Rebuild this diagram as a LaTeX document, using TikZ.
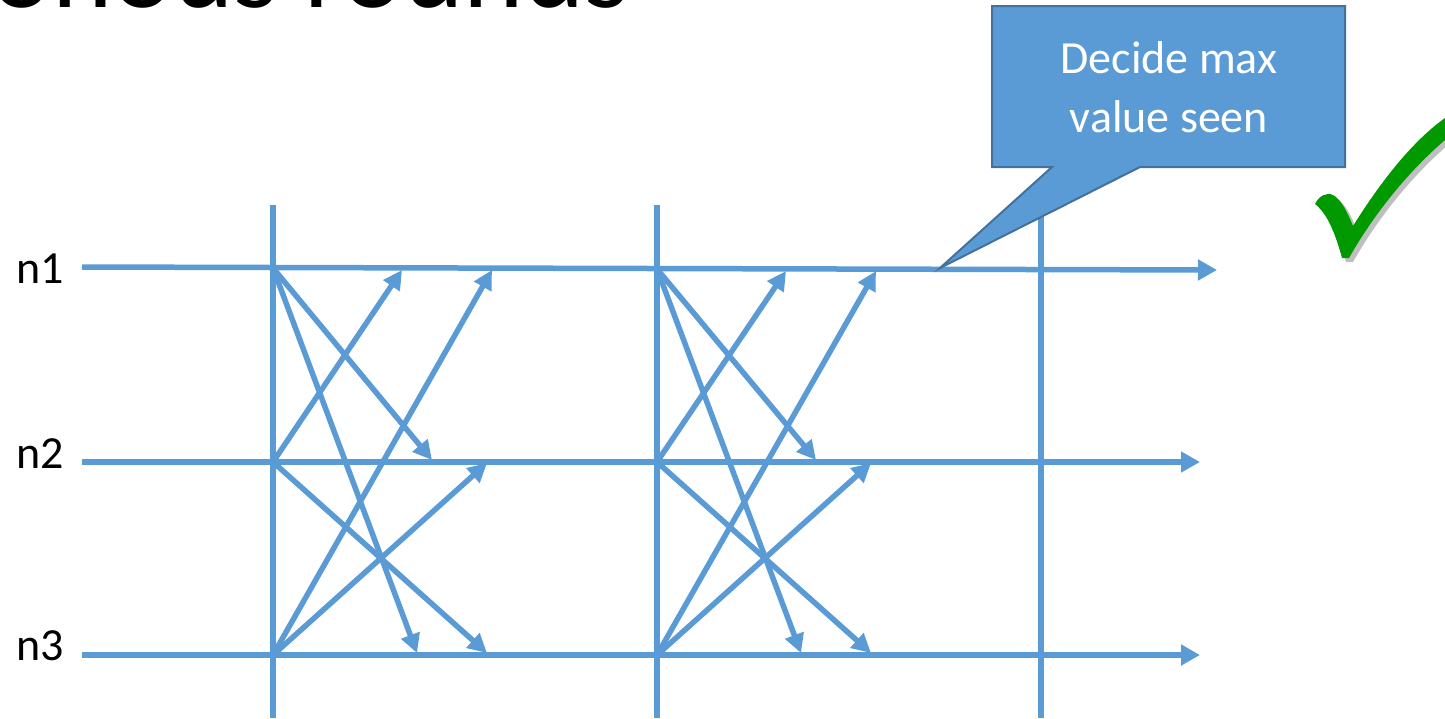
\documentclass[tikz,border=0pt]{standalone}
\usepackage{fontspec}
\setmainfont{Carlito}
\usetikzlibrary{arrows.meta}

\definecolor{msgblue}{HTML}{5B9BD5}
\definecolor{calloutedge}{HTML}{41719C}
\definecolor{tickgreen}{HTML}{009A00}

\tikzset{
  timeline/.style={msgblue, line width=5.5pt, -{Triangle[length=19pt,width=20pt]}},
  roundline/.style={msgblue, line width=5.5pt},
  msg/.style={msgblue, line width=5.5pt, -{Triangle[length=19pt,width=19pt]}},
  proc/.style={font=\fontsize{46}{54}\selectfont, anchor=base west, inner sep=0pt},
}

\begin{document}
\begin{tikzpicture}[x=1pt, y=-1pt]
  \useasboundingbox (0,0) rectangle (1445,718);
  \clip (0,0) rectangle (1445,718);

  % title, cut by the top edge
  \node[anchor=base east, inner sep=0pt, font=\fontsize{115}{130}\selectfont] (title) at (630,7) {Synchronous rounds};

  % processes
  \node[proc] (n1) at (16,283) {n1};
  \node[proc] (n2) at (16,468) {n2};
  \node[proc] (n3) at (16,660) {n3};

  \coordinate (s1) at (82,267);  \coordinate (e1) at (1217,270);
  \coordinate (s2) at (82,462);  \coordinate (e2) at (1200,462);
  \coordinate (s3) at (82,655);  \coordinate (e3) at (1200,655);

  \draw[timeline] (s1) -- (e1);
  \draw[timeline] (s2) -- (e2);
  \draw[timeline] (s3) -- (e3);

  % round boundaries
  \foreach \x [count=\i] in {273,657,1041} {
    \coordinate (top\i) at (\x,205);
    \coordinate (bot\i) at (\x,718);
    \draw[roundline] (top\i) -- (bot\i);
  }

  % messages of each round
  \foreach \x/\y [count=\r] in {273/268,657/269} {
    \coordinate (a\r) at (\x,\y);
    \coordinate (b\r) at (\x,462);
    \coordinate (c\r) at (\x,655);
    \coordinate (ab\r) at (\x+159,460);
    \coordinate (ac\r) at (\x+144,653);
    \coordinate (ba\r) at (\x+129,\y+2);
    \coordinate (bc\r) at (\x+214,653);
    \coordinate (ca\r) at (\x+219,\y+2);
    \coordinate (cb\r) at (\x+214,463);
    \draw[msg] (a\r) -- (ab\r);
    \draw[msg] (a\r) -- (ac\r);
    \draw[msg] (b\r) -- (ba\r);
    \draw[msg] (b\r) -- (bc\r);
    \draw[msg] (c\r) -- (ca\r);
    \draw[msg] (c\r) -- (cb\r);
  }

  % callout
  \coordinate (pin) at (940,268);
  \filldraw[fill=msgblue, draw=calloutedge, line width=2pt, line join=miter]
    (992,6) -- (1345,6) -- (1345,167) -- (1140,167) -- (pin)
    -- (1052,167) -- (992,167) -- cycle;
  \node[white, align=center, font=\fontsize{46}{59}\selectfont] (decide) at (1169,87) {Decide max\\value seen};

  % tick
  \fill[black, opacity=0.25, shift={(4,4)}]
    (1315,204) .. controls (1319,196) and (1326,192) .. (1333,195)
    .. controls (1342,200) and (1348,214) .. (1353,226)
    .. controls (1378,186) and (1410,143) .. (1445,118) -- (1445,140)
    .. controls (1410,170) and (1375,212) .. (1349,258) -- (1342,258)
    .. controls (1336,236) and (1328,214) .. cycle;
  \fill[tickgreen]
    (1315,204) .. controls (1319,196) and (1326,192) .. (1333,195)
    .. controls (1342,200) and (1348,214) .. (1353,226)
    .. controls (1378,186) and (1410,143) .. (1445,118) -- (1445,140)
    .. controls (1410,170) and (1375,212) .. (1349,258) -- (1342,258)
    .. controls (1336,236) and (1328,214) .. cycle;
\end{tikzpicture}
\end{document}
